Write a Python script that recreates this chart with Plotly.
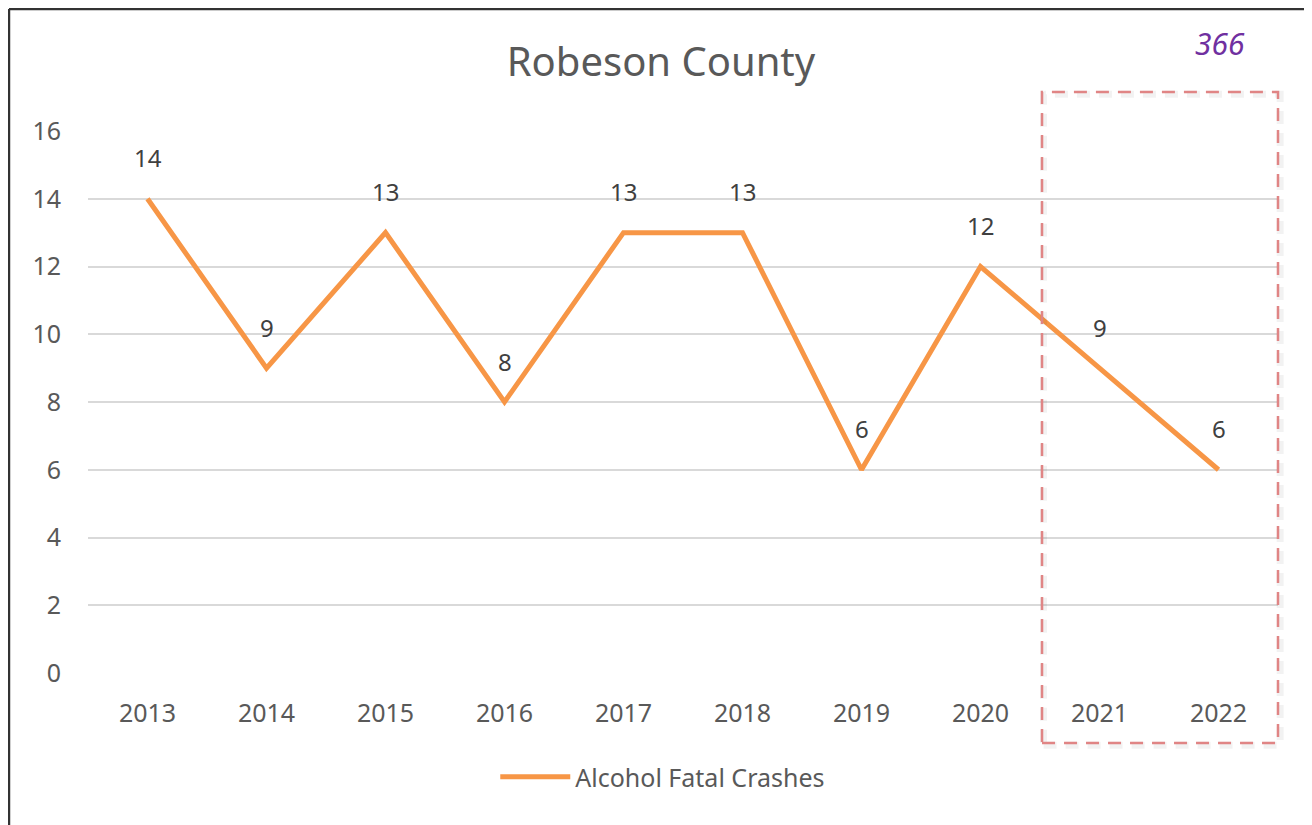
import plotly.graph_objects as go

# Alcohol fatal crashes, Robeson County
years = ["2013", "2014", "2015", "2016", "2017", "2018", "2019", "2020", "2021", "2022"]
crashes = [14, 9, 13, 8, 13, 13, 6, 12, 9, 6]
y_ticks = [0, 2, 4, 6, 8, 10, 12, 14, 16]

FONT = "Noto Sans"
GRAY = "#595959"

fig = go.Figure()
fig.add_trace(go.Scatter(
    x=years, y=crashes, mode="lines", name="Alcohol Fatal Crashes",
    line=dict(color="#F79646", width=5),
))

# data labels above each point (category index positions)
for i, v in enumerate(crashes):
    fig.add_annotation(x=i, y=v, text=str(v), showarrow=False, yshift=41,
                       font=dict(family=FONT, size=24, color="#404040"))

fig.add_annotation(x=0.951, y=1.162, xref="paper", yref="paper", text="366",
                   showarrow=False, xanchor="center", yanchor="middle",
                   font=dict(family=FONT, size=30, color="#7030A0", style="italic"))

# dashed highlight box around the last two years (with faint shadow)
fig.add_shape(type="rect", xref="paper", yref="paper",
              x0=0.8030, x1=1.0018, y0=-0.1335, y1=1.068,
              line=dict(color="rgba(0,0,0,0.05)", width=7, dash="13px,9px"))
fig.add_shape(type="rect", xref="paper", yref="paper",
              x0=0.8017, x1=1.0, y0=-0.129, y1=1.072,
              line=dict(color="#E08585", width=2.5, dash="13px,9px"))

# outer chart border (left and top)
fig.add_shape(type="line", xref="paper", yref="paper",
              x0=-0.0664, x1=-0.0664, y0=-0.3, y1=1.225,
              line=dict(color="#333333", width=2.5))
fig.add_shape(type="line", xref="paper", yref="paper",
              x0=-0.0664, x1=1.05, y0=1.225, y1=1.225,
              line=dict(color="#333333", width=2.5))

fig.update_layout(
    width=1312, height=825,
    margin=dict(l=80, r=42, t=123, b=160),
    paper_bgcolor="white", plot_bgcolor="white",
    font=dict(family=FONT, color=GRAY),
    title=dict(text="Robeson County", x=0.4977, xanchor="center", y=0.9345, yanchor="middle",
               font=dict(family=FONT, size=40, color=GRAY)),
    showlegend=True,
    legend=dict(orientation="h", x=0.483, xanchor="center", y=-0.192, yanchor="middle",
                font=dict(family=FONT, size=25, color=GRAY), itemwidth=70),
)
fig.update_xaxes(type="category", range=[-0.5, 9.5], showgrid=False, zeroline=False,
                 showline=False, ticks="outside", ticklen=18, tickcolor="rgba(0,0,0,0)",
                 tickfont=dict(family=FONT, size=25, color=GRAY))
fig.update_yaxes(range=[0, 16], tickvals=y_ticks, showgrid=True, gridcolor="#D9D9D9",
                 gridwidth=1.5, zeroline=False, showline=False, ticks="outside",
                 ticklen=21, tickcolor="rgba(0,0,0,0)",
                 tickfont=dict(family=FONT, size=25, color=GRAY))

fig.write_html("out.html")
